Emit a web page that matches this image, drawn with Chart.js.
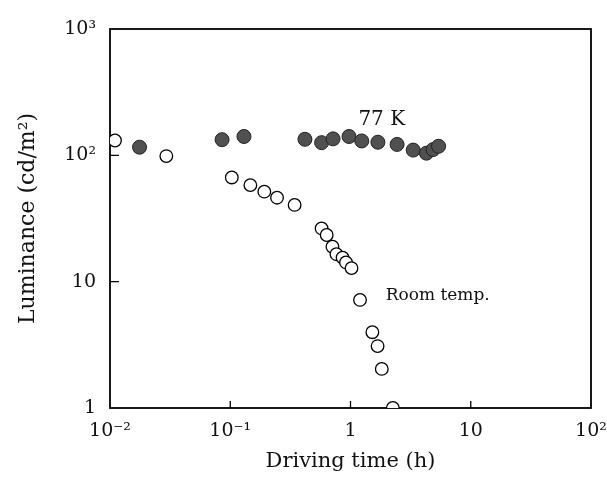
<!DOCTYPE html>
<html>
<head>
<meta charset="utf-8">
<script src="https://cdn.jsdelivr.net/npm/chart.js@4.4.0/dist/chart.umd.min.js"></script>
<style>
  html, body { margin: 0; padding: 0; background: #fff; }
  #wrap { width: 607px; height: 486px; }
</style>
</head>
<body>
<div id="wrap"><canvas id="chart" width="607" height="486"></canvas></div>
<script>
// 77 K (filled circles)
const coldTime = [0.0176, 0.0855, 0.130, 0.418, 0.575, 0.716, 0.972, 1.24, 1.69, 2.44, 3.32, 4.28, 4.86, 5.40];
const coldLum = [116, 133, 141, 134, 126, 135, 141, 130, 127, 122, 110, 104, 111, 118];

// room temperature (open circles)
const roomTime = [0.011, 0.0294, 0.103, 0.147, 0.192, 0.245, 0.343, 0.575, 0.634, 0.708, 0.764, 0.859, 0.918, 1.02, 1.20, 1.52, 1.68, 1.82, 2.25];
const roomLum = [131, 98.6, 66.8, 58.1, 51.6, 46.2, 40.5, 26.4, 23.4, 18.9, 16.5, 15.5, 14.2, 12.8, 7.17, 3.98, 3.09, 2.04, 1.0];

const xTickVals = [0.01, 0.1, 1, 10, 100];
const xTickLabels = ['10\u207B\u00B2', '10\u207B\u00B9', '1', '10', '10\u00B2'];
const yTickVals = [1, 10, 100, 1000];
const yTickLabels = ['1', '10', '10\u00B2', '10\u00B3'];

// text notes placed in data coordinates
const noteText = ['77 K', 'Room temp.'];
const noteX = [1.82, 1.96];
const noteY = [191, 7.8];

const FONT = "'DejaVu Serif', serif";

const pts = (xs, ys) => xs.map((x, i) => ({ x: x, y: ys[i] }));

// box frame + inward tick marks + notes
const framePlugin = {
  id: 'frame',
  beforeDatasetsDraw(chart) {
    const { ctx, chartArea: a, scales } = chart;
    ctx.save();
    ctx.strokeStyle = '#000';
    ctx.lineWidth = 1.8;
    ctx.strokeRect(a.left, a.top, a.right - a.left, a.bottom - a.top);
    ctx.lineWidth = 1.3;
    ctx.beginPath();
    xTickVals.slice(1, -1).forEach(v => {
      const px = scales.x.getPixelForValue(v);
      ctx.moveTo(px, a.bottom);
      ctx.lineTo(px, a.bottom - 7);
    });
    yTickVals.slice(1, -1).forEach(v => {
      const py = scales.y.getPixelForValue(v);
      ctx.moveTo(a.left, py);
      ctx.lineTo(a.left + 9, py);
    });
    ctx.stroke();
    ctx.restore();
  },
  afterDraw(chart) {
    const { ctx, scales } = chart;
    const sizes = [20, 17];
    const aligns = ['center', 'left'];
    ctx.save();
    ctx.fillStyle = '#111';
    ctx.textBaseline = 'middle';
    noteText.forEach((t, i) => {
      ctx.font = sizes[i] + 'px ' + FONT;
      ctx.textAlign = aligns[i];
      ctx.fillText(t, scales.x.getPixelForValue(noteX[i]), scales.y.getPixelForValue(noteY[i]));
    });
    ctx.restore();
  }
};

new Chart(document.getElementById('chart'), {
  type: 'scatter',
  data: {
    datasets: [
      {
        label: '77 K',
        data: pts(coldTime, coldLum),
        pointRadius: 7,
        pointHoverRadius: 7,
        backgroundColor: '#505050',
        borderColor: '#222',
        borderWidth: 1
      },
      {
        label: 'Room temp.',
        data: pts(roomTime, roomLum),
        pointRadius: 6.3,
        pointHoverRadius: 6.3,
        backgroundColor: '#fff',
        borderColor: '#000',
        borderWidth: 1.3,
        clip: 0
      }
    ]
  },
  options: {
    responsive: false,
    animation: false,
    layout: { padding: { left: 0, top: 29, right: 16, bottom: 0 } },
    plugins: {
      legend: { display: false },
      tooltip: { enabled: false }
    },
    scales: {
      x: {
        type: 'logarithmic',
        min: 0.01,
        max: 100,
        afterBuildTicks: s => { s.ticks = xTickVals.map(v => ({ value: v })); },
        afterFit: s => { s.height = 78; s.paddingLeft = 0; s.paddingRight = 0; },
        grid: { display: false },
        border: { display: false },
        ticks: {
          color: '#111',
          font: { family: FONT, size: 19 },
          padding: 4,
          maxRotation: 0,
          autoSkip: false,
          callback: v => xTickLabels[xTickVals.indexOf(v)]
        },
        title: {
          display: true,
          text: 'Driving time (h)',
          color: '#111',
          font: { family: FONT, size: 21 },
          padding: { top: 0, bottom: 12 }
        }
      },
      y: {
        type: 'logarithmic',
        min: 1,
        max: 1000,
        afterBuildTicks: s => { s.ticks = yTickVals.map(v => ({ value: v })); },
        afterFit: s => { s.width = 110; s.paddingTop = 0; s.paddingBottom = 0; },
        grid: { display: false },
        border: { display: false },
        ticks: {
          color: '#111',
          font: { family: FONT, size: 19 },
          padding: 6,
          autoSkip: false,
          callback: v => yTickLabels[yTickVals.indexOf(v)]
        },
        title: {
          display: true,
          text: 'Luminance (cd/m\u00B2)',
          color: '#111',
          font: { family: FONT, size: 22 },
          padding: { top: 15, bottom: 0 }
        }
      }
    }
  },
  plugins: [framePlugin]
});
</script>
</body>
</html>
